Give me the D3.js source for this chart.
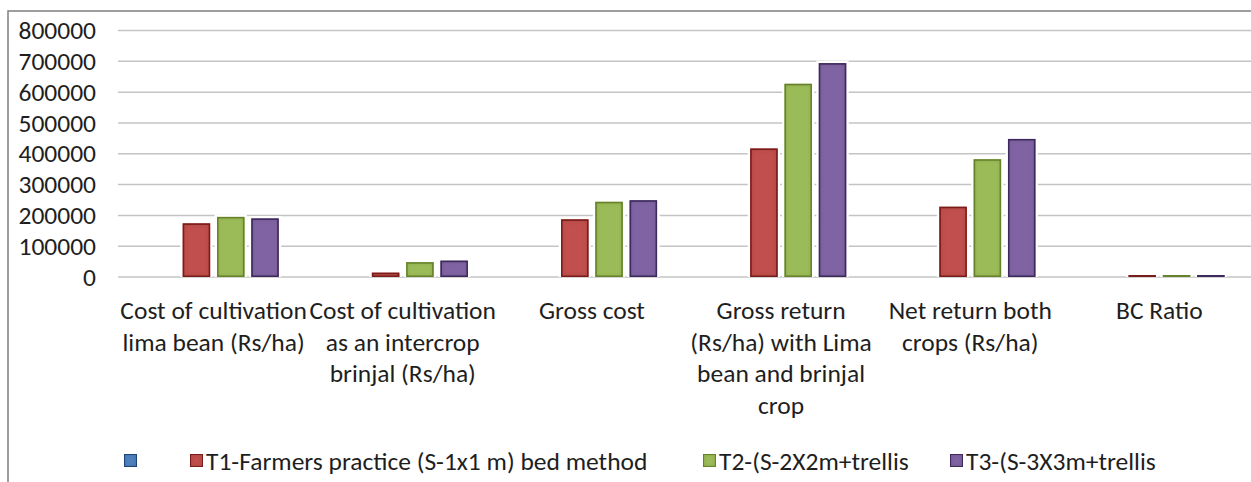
<!DOCTYPE html>
<html>
<head>
<meta charset="utf-8">
<script src="https://cdn.jsdelivr.net/npm/d3@7"></script>
<style>
  body { margin: 0; background: #fff; }
  svg { display: block; }
  text { font-family: Carlito, Calibri, Lato, sans-serif; fill: #1e1e1e; }
</style>
</head>
<body>
<svg width="1251" height="482"></svg>
<script>
// Chart data
const categories = ["Cost of cultivation lima bean (Rs/ha)", "Cost of cultivation as an intercrop brinjal (Rs/ha)",
                    "Gross cost", "Gross return (Rs/ha) with Lima bean and brinjal crop",
                    "Net return both crops (Rs/ha)", "BC Ratio"];
const categoryLines = [["Cost of cultivation", "lima bean (Rs/ha)"],
                       ["Cost of cultivation", "as an intercrop", "brinjal (Rs/ha)"],
                       ["Gross cost"],
                       ["Gross return", "(Rs/ha) with Lima", "bean and brinjal", "crop"],
                       ["Net return both", "crops (Rs/ha)"],
                       ["BC Ratio"]];
const seriesNames = ["", "T1-Farmers practice (S-1x1 m) bed method", "T2-(S-2X2m+trellis", "T3-(S-3X3m+trellis"];
const blankValues = [null, null, null, null, null, null];
const t1Values = [174000, 14000, 187000, 417000, 228000, 2.2];
const t2Values = [195000, 48000, 244000, 627000, 382000, 2.6];
const t3Values = [190000, 53000, 249000, 694000, 448000, 2.9];
const yTicks = [0, 100000, 200000, 300000, 400000, 500000, 600000, 700000, 800000];

const seriesValues = [blankValues, t1Values, t2Values, t3Values];
const fills   = ["#4F81BD", "#C0504D", "#9BBB59", "#8064A2"];
const strokes = ["#1F4477", "#7A1C19", "#66832B", "#3C2A5C"];

const svg = d3.select("svg");
const width = +svg.attr("width");
const fontSize = 25.5;

// Inner-shadow filter to mimic the Excel bevel look
const defs = svg.append("defs");
const f = defs.append("filter").attr("id", "inner")
  .attr("x", "-50%").attr("y", "-50%").attr("width", "200%").attr("height", "200%");
f.append("feFlood").attr("flood-color", "#000").attr("flood-opacity", 0.45);
f.append("feComposite").attr("in2", "SourceAlpha").attr("operator", "out");
f.append("feGaussianBlur").attr("stdDeviation", 2.2);
f.append("feComposite").attr("in2", "SourceAlpha").attr("operator", "in").attr("result", "shadow");
const m = f.append("feMerge");
m.append("feMergeNode").attr("in", "SourceGraphic");
m.append("feMergeNode").attr("in", "shadow");

// chart area border (continues off the right/bottom of the picture)
svg.append("rect").attr("x", 8).attr("y", 11).attr("width", width + 20).attr("height", 520)
  .attr("fill", "none").attr("stroke", "#7f7f7f").attr("stroke-width", 1.5);

// scales
const x0 = d3.scaleBand().domain(categories).range([119, 1254]);
const x1 = d3.scaleBand().domain(d3.range(seriesNames.length))
  .range([26, x0.bandwidth() - 26]).paddingInner(0.2).paddingOuter(0.1);
const y = d3.scaleLinear().domain([0, 800000]).range([277, 30.5]);

// gridlines
svg.append("g").selectAll("line").data(yTicks).join("line")
  .attr("x1", 118).attr("x2", width)
  .attr("y1", d => y(d)).attr("y2", d => y(d))
  .attr("stroke", "#c4c4c4").attr("stroke-width", 1.5);

// y axis labels
svg.append("g").selectAll("text").data(yTicks).join("text")
  .attr("x", 96).attr("y", d => y(d)).attr("dy", "0.34em")
  .attr("text-anchor", "end").attr("font-size", fontSize)
  .text(d => d);

// bars
const bars = [];
seriesValues.forEach((vals, s) => vals.forEach((v, i) => {
  if (v != null) bars.push({ s, cat: categories[i], v });
}));

const barG = svg.append("g");
function barY(d) { return Math.min(y(d.v), y(0) - 2); }
function barH(d) { return y(0) - barY(d); }

// white halo that interrupts the gridlines
barG.selectAll("rect.halo").data(bars).join("rect").attr("class", "halo")
  .attr("x", d => x0(d.cat) + x1(d.s) - 2.5).attr("width", x1.bandwidth() + 5)
  .attr("y", d => barY(d) - 2.5).attr("height", d => barH(d) + 2.5)
  .attr("fill", "#fff");

barG.selectAll("rect.bar").data(bars).join("rect").attr("class", "bar")
  .attr("x", d => x0(d.cat) + x1(d.s)).attr("width", x1.bandwidth())
  .attr("y", barY).attr("height", barH)
  .attr("fill", d => fills[d.s])
  .attr("filter", "url(#inner)");

barG.selectAll("rect.edge").data(bars).join("rect").attr("class", "edge")
  .attr("x", d => x0(d.cat) + x1(d.s) + 0.75).attr("width", x1.bandwidth() - 1.5)
  .attr("y", d => barY(d) + 0.75).attr("height", d => Math.max(barH(d) - 1.5, 0.5))
  .attr("fill", "none").attr("stroke", d => strokes[d.s]).attr("stroke-width", 1.5);

// category labels
const lineH = 31.5;
const catG = svg.append("g").selectAll("text").data(categories).join("text")
  .attr("text-anchor", "middle").attr("font-size", fontSize)
  .attr("x", d => x0(d) + x0.bandwidth() / 2).attr("y", 319);
catG.selectAll("tspan").data((d, i) => categoryLines[i]).join("tspan")
  .attr("x", function () { return d3.select(this.parentNode).attr("x"); })
  .attr("dy", (d, i) => i === 0 ? 0 : lineH)
  .text(d => d);

// legend
const legend = svg.append("g");
const legendY = 461;
const legendX = [124, 190, 703, 950];
seriesNames.forEach((name, s) => {
  const g = legend.append("g").attr("transform", `translate(${legendX[s]},${legendY})`);
  g.append("rect").attr("x", 0).attr("y", -7).attr("width", 13).attr("height", 13)
    .attr("fill", fills[s]).attr("filter", "url(#inner)");
  g.append("rect").attr("x", 0.5).attr("y", -6.5).attr("width", 12).attr("height", 12)
    .attr("fill", "none").attr("stroke", strokes[s]).attr("stroke-width", 1);
  g.append("text").attr("x", 16).attr("y", 0).attr("dy", "0.34em")
    .attr("font-size", fontSize).text(name);
});
</script>
</body>
</html>
